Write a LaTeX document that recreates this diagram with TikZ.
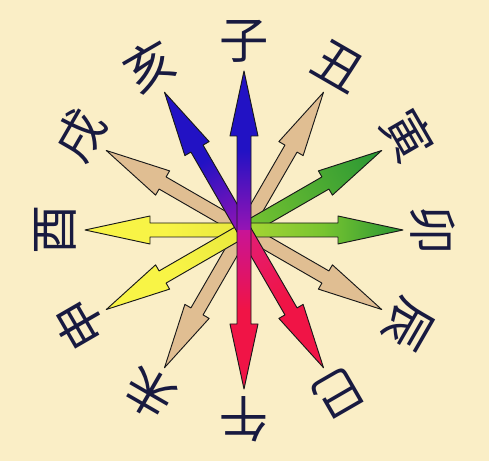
\documentclass[tikz,border=0pt]{standalone}
\usepackage{fontspec}
\newfontfamily\cjk{Noto Sans CJK SC}
\usepackage{xcolor}
\usepackage{tikz}
\definecolor{paper}{RGB}{250,238,198}
\definecolor{ink}{RGB}{24,26,64}
\definecolor{tanlight}{RGB}{224,190,146}
\definecolor{greenin}{RGB}{120,196,48}
\definecolor{greenout}{RGB}{40,150,52}
\definecolor{limein}{RGB}{168,214,52}
\definecolor{yellowin}{RGB}{232,232,60}
\definecolor{yellowout}{RGB}{248,244,70}
\definecolor{purplein}{RGB}{150,20,180}
\definecolor{blueout}{RGB}{34,18,196}
\definecolor{magentain}{RGB}{200,20,150}
\definecolor{redout}{RGB}{240,20,70}
\definecolor{pinkin}{RGB}{226,30,120}

\begin{document}
\begin{tikzpicture}[x=0.03cm, y=0.03cm,
    rayfill/.style={draw=none},
    rayline/.style={draw=black!90, line width=0.8pt, line join=round},
    branch/.style={font=\cjk\fontsize{42}{42}\selectfont, text=ink, inner sep=0pt}]
\fill[paper] (-244,-231) rectangle (245,230);
\useasboundingbox (-244,-231) rectangle (245,230);
% twelve rays, drawn from the center outwards
\foreach \ang/\cin/\cmid/\cout in {60/tanlight/tanlight/tanlight,
    -30/tanlight/tanlight/tanlight, -120/tanlight/tanlight/tanlight,
    150/tanlight/tanlight/tanlight,
    30/greenin/greenin!50!greenout/greenout, 0/limein/greenin/greenout,
    180/yellowin/yellowout/yellowout, -150/yellowin/yellowout/yellowout,
    120/purplein/blueout/blueout, -60/pinkin/redout/redout,
    -90/magentain/redout/redout, 90/purplein/blueout/blueout} {
    \begin{scope}[transform canvas={rotate=\ang}]
    \shade[rayfill, left color=\cin, right color=\cout, middle color=\cmid]
        (0,-7) -- (94,-7) -- (94,-14) -- (159,0) -- (94,14) -- (94,7) -- (0,7) -- cycle;
    \draw[rayline] (0,-7) -- (94,-7) -- (94,-14) -- (159,0) -- (94,14) -- (94,7) -- (0,7);
    \end{scope}
}
% the twelve branches round the rays
\foreach \ang/\ch in {90/子, 60/丑, 30/寅, 0/卯, -30/辰, -60/巳,
    -90/午, -120/未, -150/申, 180/酉, 150/戌, 120/亥} {
    \node[branch, rotate=\ang-90] (b\ang) at (\ang:189) {\ch};
}
\end{tikzpicture}
\end{document}
